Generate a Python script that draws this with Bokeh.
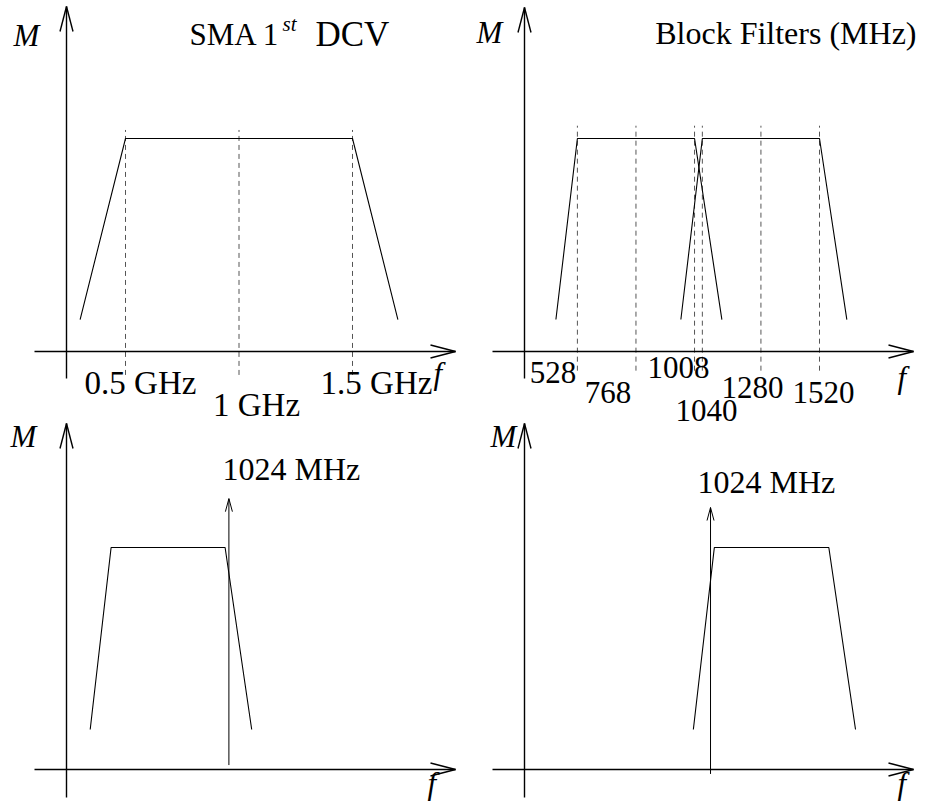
import math
from bokeh.plotting import figure
from bokeh.models import Range1d, Label
from bokeh.embed import file_html
from bokeh.resources import INLINE

# ---------------- data ----------------
sma_f_ghz = [0.3, 0.5, 1.5, 1.7]
sma_m = [0.15, 1.0, 1.0, 0.15]
sma_marks_ghz = [0.5, 1.0, 1.5]
sma_mark_labels = ["0.5 GHz", "1 GHz", "1.5 GHz"]

block_low_f = [440, 528, 1008, 1120]
block_high_f = [952, 1040, 1520, 1632]
block_m = [0.15, 1.0, 1.0, 0.15]
block_marks = [528, 768, 1008, 1040, 1280, 1520]
block_mark_labels = ["528", "768", "1008", "1040", "1280", "1520"]

lo_mhz = 1024
lo_label = "1024 MHz"
if_m = [0.18, 1.0, 1.0, 0.18]
lo_span_lower = [0.02, 1.22]
lo_span_upper = [-0.02, 1.18]

# ---------------- styles / layout ----------------
W, H = 926, 802
FONT = "Liberation Serif"
FS = "31px"
GHZ_FS = "33px"
TITLE_FS = "32px"
BLACK = "black"
DASH_COLOR = "#555555"
TEXT_DY = -11  # renderer places text a little low; lift it

fig = figure(
    width=W, height=H, x_range=Range1d(0, W), y_range=Range1d(0, H),
    output_backend="svg", toolbar_location=None,
    x_axis_location=None, y_axis_location=None,
    min_border=0, outline_line_color=None,
)
fig.grid.visible = False


class Panel:
    """One sub-diagram on its own named ranges: page X = ax + bx*f ; page Y = cy - dy*M"""

    def __init__(self, name, ax, bx, cy, dy):
        self.name = name
        self.ax, self.bx, self.cy, self.dy = ax, bx, cy, dy
        fig.extra_x_ranges[name] = Range1d(self.fx(0), self.fx(W))
        fig.extra_y_ranges[name] = Range1d(self.my(H), self.my(0))
        self.kw = dict(x_range_name=name, y_range_name=name)

    def fx(self, X):
        return (X - self.ax) / self.bx

    def my(self, Y):
        return (self.cy - Y) / self.dy

    def X(self, f):
        return self.ax + self.bx * f

    def Y(self, m):
        return self.cy - self.dy * m

    def line(self, xs, ys, width):
        fig.line(xs, ys, line_color=BLACK, line_width=width, **self.kw)

    def dashes(self, xs, m0, m1):
        fig.segment(x0=xs, y0=[m0] * len(xs), x1=xs, y1=[m1] * len(xs),
                    line_color=DASH_COLOR, line_width=1, line_dash="5 4", **self.kw)

    def arrow_px(self, X0, Y0, X1, Y1, head_len, head_half, width):
        fig.line([self.fx(X0), self.fx(X1)], [self.my(Y0), self.my(Y1)],
                 line_color=BLACK, line_width=width, **self.kw)
        L = math.hypot(X1 - X0, Y1 - Y0)
        ux, uy = (X1 - X0) / L, (Y1 - Y0) / L
        bxp, byp = X1 - ux * head_len, Y1 - uy * head_len
        nx, ny = -uy, ux
        A = (bxp + nx * head_half, byp + ny * head_half)
        B = (bxp - nx * head_half, byp - ny * head_half)
        fig.multi_line(
            xs=[[self.fx(A[0]), self.fx(X1)], [self.fx(B[0]), self.fx(X1)]],
            ys=[[self.my(A[1]), self.my(Y1)], [self.my(B[1]), self.my(Y1)]],
            line_color=BLACK, line_width=width, **self.kw,
        )

    def text_px(self, text, X, Y, size=FS, align="left", italic=False):
        fig.add_layout(Label(
            x=self.fx(X), y=self.my(Y + TEXT_DY), text=text,
            text_font=FONT, text_font_size=size,
            text_font_style="italic" if italic else "normal",
            text_align=align, text_baseline="alphabetic", text_color=BLACK,
            **self.kw,
        ))


AX_HEAD_LEN, AX_HEAD_HALF, AX_W = 25, 6.5, 1.4
LO_HEAD_LEN, LO_HEAD_HALF = 13, 3.5
TRAP_W = 1.1

# ---------------- top-left: SMA 1st DCV ----------------
tl = Panel("tl", 11.5, 227.0, 351, 213)
tl.dashes(sma_marks_ghz, -0.11, 1.04)
tl.line(sma_f_ghz, sma_m, TRAP_W)
tl.arrow_px(34, 351, 455, 351, AX_HEAD_LEN, AX_HEAD_HALF, AX_W)
tl.arrow_px(66, 378, 66, 6, AX_HEAD_LEN, AX_HEAD_HALF, AX_W)
tl.text_px("M", 13, 46, italic=True)
tl.text_px("SMA 1", 189, 45, size="31px")
tl.text_px("st", 282, 34, size="21px", italic=True)
tl.text_px("DCV", 315, 45, size="35px")
sma_label_dx = [15, 17.5, 24]
sma_label_below = [42, 64, 42]
for v, t, dx, below in zip(sma_marks_ghz, sma_mark_labels, sma_label_dx, sma_label_below):
    tl.text_px(t, tl.X(v) + dx, tl.Y(0) + below, size=GHZ_FS, align="center")
tl.text_px("f", 433, 384, italic=True)

# ---------------- top-right: Block filters ----------------
tr = Panel("tr", 448.03, 0.24406, 351, 213)
tr.dashes(block_marks, -0.09, 1.06)
tr.line(block_low_f, block_m, TRAP_W)
tr.line(block_high_f, block_m, TRAP_W)
tr.arrow_px(492, 351, 913, 351, AX_HEAD_LEN, AX_HEAD_HALF, AX_W)
tr.arrow_px(524, 378, 524, 7, AX_HEAD_LEN, AX_HEAD_HALF, AX_W)
tr.text_px("M", 476, 43, italic=True)
tr.text_px("Block Filters (MHz)", 916, 43, size=TITLE_FS, align="right")
block_label_dx = [-24.4, -28, -16, 4.2, -8.4, 4]
block_label_below = [32, 52, 27, 70, 47, 52]
for v, t, dx, below in zip(block_marks, block_mark_labels, block_label_dx, block_label_below):
    tr.text_px(t, tr.X(v) + dx, tr.Y(0) + below, align="center")
tr.text_px("f", 897, 388, italic=True)

# ---------------- bottom-left: lower filter + LO ----------------
bl = Panel("bl", -14.8, 0.2375, 769, 222)
bl.line(block_low_f, if_m, TRAP_W)
bl.arrow_px(bl.X(lo_mhz), bl.Y(lo_span_lower[0]), bl.X(lo_mhz), bl.Y(lo_span_lower[1]),
            LO_HEAD_LEN, LO_HEAD_HALF, 1.0)
bl.arrow_px(34, 769, 455, 769, AX_HEAD_LEN, AX_HEAD_HALF, AX_W)
bl.arrow_px(66, 797, 66, 423, AX_HEAD_LEN, AX_HEAD_HALF, AX_W)
bl.text_px("M", 10, 447, italic=True)
bl.text_px(lo_label, bl.X(lo_mhz) - 6.4, bl.Y(lo_span_lower[1]) - 19, size="32px")
bl.text_px("f", 427, 794, italic=True)

# ---------------- bottom-right: upper filter + LO ----------------
br = Panel("br", 465.8, 0.2385, 769, 222)
br.line(block_high_f, if_m, TRAP_W)
br.arrow_px(br.X(lo_mhz), br.Y(lo_span_upper[0]), br.X(lo_mhz), br.Y(lo_span_upper[1]),
            LO_HEAD_LEN, LO_HEAD_HALF, 1.0)
br.arrow_px(492, 769, 913, 769, AX_HEAD_LEN, AX_HEAD_HALF, AX_W)
br.arrow_px(524, 797, 524, 423, AX_HEAD_LEN, AX_HEAD_HALF, AX_W)
br.text_px("M", 490, 447, italic=True)
br.text_px(lo_label, br.X(lo_mhz) - 13, br.Y(lo_span_upper[1]) - 15, size="32px")
br.text_px("f", 897, 794, italic=True)

with open("out.html", "w") as fh:
    fh.write(file_html(fig, INLINE))
